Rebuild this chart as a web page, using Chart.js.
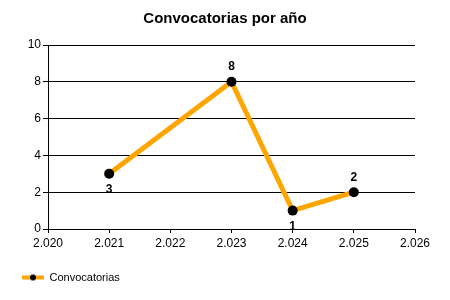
<!DOCTYPE html>
<html>
<head>
<meta charset="utf-8">
<script src="https://cdn.jsdelivr.net/npm/chart.js@4/dist/chart.umd.min.js"></script>
<style>
  html, body { margin: 0; padding: 0; background: #fff; }
  #wrap { width: 450px; height: 300px; }
</style>
</head>
<body>
<div id="wrap"><canvas id="chart"></canvas></div>
<script>
var years = [2021, 2023, 2024, 2025];
var counts = [3, 8, 1, 2];
var seriesName = "Convocatorias";
var chartTitle = "Convocatorias por año";

var FONT = "'Liberation Sans', Arial, sans-serif";
var ORANGE = "rgb(255, 165, 0)";

// legend symbol: orange line with black dot
var legendIcon = document.createElement("canvas");
legendIcon.width = 22;
legendIcon.height = 8;
var ic = legendIcon.getContext("2d");
ic.fillStyle = ORANGE;
ic.fillRect(0, 2, 22, 4);
ic.fillStyle = "#000";
ic.beginPath();
ic.arc(11, 4, 3, 0, Math.PI * 2);
ic.fill();

// "2.020" style numbers
function fmt(v) {
  var s = String(Math.round(v));
  return s.replace(/\B(?=(\d{3})+(?!\d))/g, ".");
}

// value labels next to each point
var pointLabels = {
  id: "pointLabels",
  afterDatasetsDraw: function (chart) {
    var ctx = chart.ctx;
    var meta = chart.getDatasetMeta(0);
    var data = chart.data.datasets[0].data;
    ctx.save();
    ctx.font = "bold 12px " + FONT;
    ctx.fillStyle = "#000";
    ctx.textAlign = "center";
    ctx.textBaseline = "middle";
    meta.data.forEach(function (pt, i) {
      var v = data[i].y;
      var nb = [];
      if (i > 0) nb.push(data[i - 1].y);
      if (i < data.length - 1) nb.push(data[i + 1].y);
      var below = nb.every(function (n) { return n > v; });
      ctx.fillText(fmt(v), pt.x, below ? pt.y + 16 : pt.y - 15);
    });
    ctx.restore();
  }
};

var points = years.map(function (y, i) { return { x: y, y: counts[i] }; });

new Chart(document.getElementById("chart"), {
  type: "line",
  data: {
    datasets: [{
      label: seriesName,
      data: points,
      borderColor: ORANGE,
      borderWidth: 5,
      backgroundColor: "#000",
      pointBackgroundColor: "#000",
      pointBorderColor: "#000",
      pointRadius: 5,
      pointBorderWidth: 0,
      tension: 0,
      fill: false
    }]
  },
  options: {
    responsive: true,
    maintainAspectRatio: false,
    animation: false,
    layout: { padding: { bottom: 7 } },
    plugins: {
      title: {
        display: true,
        text: chartTitle,
        color: "#000",
        font: { family: FONT, size: 15, weight: "bold" },
        padding: { top: 10, bottom: 17 }
      },
      legend: {
        position: "bottom",
        align: "start",
        labels: {
          usePointStyle: true,
          pointStyleWidth: 22,
          padding: 22,
          color: "#000",
          font: { family: FONT, size: 11 },
          generateLabels: function (chart) {
            return [{
              text: seriesName,
              pointStyle: legendIcon,
              fillStyle: ORANGE,
              strokeStyle: ORANGE,
              lineWidth: 0,
              datasetIndex: 0
            }];
          }
        }
      },
      tooltip: { enabled: false }
    },
    scales: {
      x: {
        type: "linear",
        min: 2020,
        max: 2026,
        ticks: {
          stepSize: 1,
          color: "#000",
          font: { family: FONT, size: 12 },
          maxRotation: 0,
          padding: 3,
          callback: function (v) { return fmt(v); }
        },
        grid: { drawOnChartArea: false, color: "#000", tickLength: 4, tickColor: "#000" },
        border: { color: "#000", width: 1 },
        afterFit: function (s) { s.height = 21; }
      },
      y: {
        min: 0,
        max: 10,
        ticks: {
          stepSize: 2,
          color: "#000",
          font: { family: FONT, size: 12 },
          padding: 2
        },
        grid: { color: "#000", tickLength: 5, tickColor: "#000" },
        border: { color: "#000", width: 1 },
        afterFit: function (s) { s.width = 48; }
      },
      yRight: {
        position: "right",
        display: true,
        ticks: { display: false },
        grid: { display: false },
        border: { display: false },
        afterFit: function (s) { s.width = 35; }
      }
    }
  },
  plugins: [pointLabels]
});
</script>
</body>
</html>
